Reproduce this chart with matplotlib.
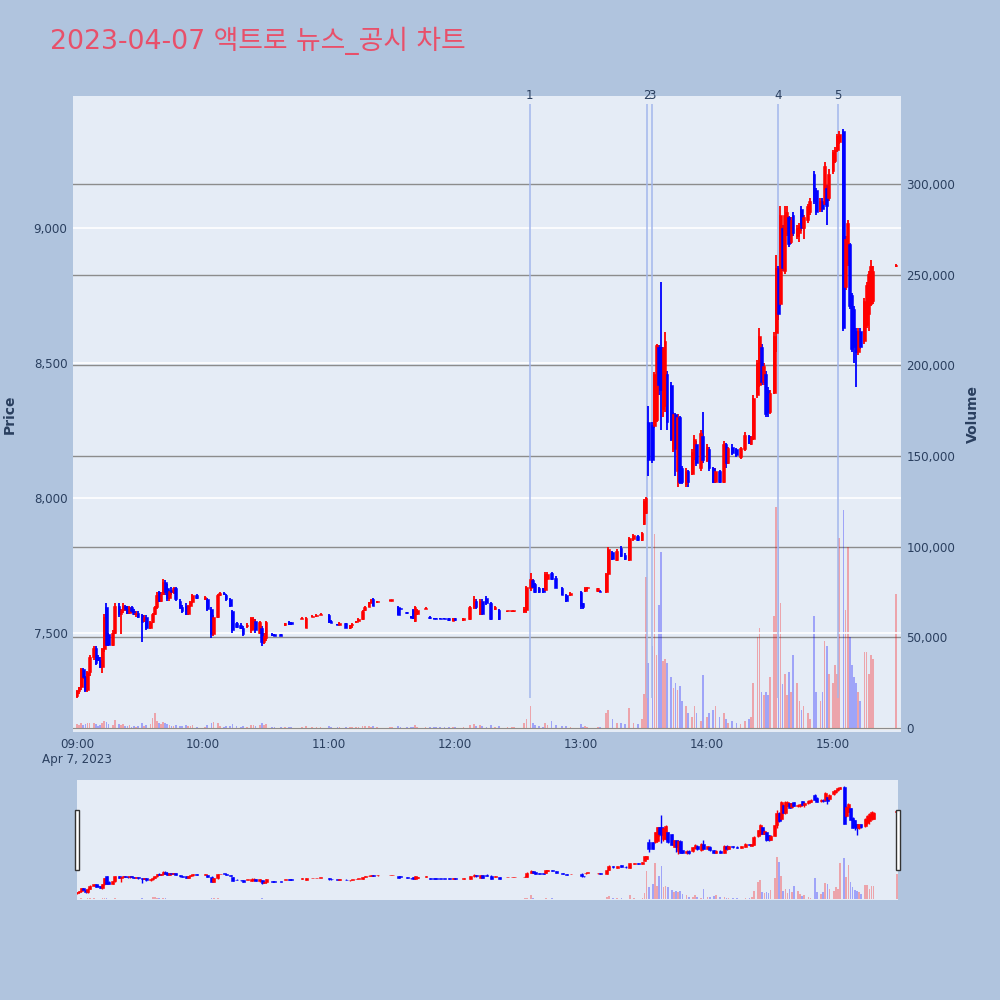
"""
2023-04-07 액트로 뉴스_공시 차트 (1분봉 + 거래량 + 레인지 슬라이더)
"""
import matplotlib.pyplot as plt
import numpy as np
from matplotlib.ticker import FuncFormatter
from matplotlib.patches import Rectangle

plt.rcParams['font.family'] = ['DejaVu Sans', 'Noto Sans CJK KR']

# ---- 데이터 ----
times = [
    "09:00", "09:01", "09:02", "09:03", "09:04", "09:05", "09:06", "09:08", "09:09", "09:10",
    "09:11", "09:12", "09:13", "09:14", "09:15", "09:17", "09:18", "09:20", "09:21", "09:22",
    "09:23", "09:24", "09:25", "09:26", "09:27", "09:28", "09:29", "09:31", "09:32", "09:33",
    "09:35", "09:36", "09:37", "09:38", "09:39", "09:40", "09:41", "09:42", "09:43", "09:44",
    "09:45", "09:46", "09:47", "09:49", "09:50", "09:52", "09:53", "09:54", "09:55", "09:57",
    "10:01", "10:02", "10:04", "10:05", "10:07", "10:08", "10:10", "10:11", "10:13", "10:14",
    "10:16", "10:18", "10:19", "10:21", "10:23", "10:24", "10:25", "10:27", "10:28", "10:29",
    "10:30", "10:33", "10:34", "10:37", "10:39", "10:41", "10:42", "10:47", "10:49", "10:52",
    "10:54", "10:56", "11:00", "11:01", "11:04", "11:05", "11:08", "11:10", "11:11", "11:13",
    "11:14", "11:16", "11:17", "11:19", "11:20", "11:21", "11:23", "11:29", "11:30", "11:33",
    "11:34", "11:37", "11:39", "11:40", "11:41", "11:42", "11:46", "11:48", "11:50", "11:51",
    "11:53", "11:55", "11:57", "11:59", "12:00", "12:04", "12:07", "12:09", "12:10", "12:12",
    "12:13", "12:15", "12:17", "12:19", "12:21", "12:25", "12:27", "12:28", "12:33", "12:34",
    "12:36", "12:37", "12:38", "12:40", "12:42", "12:43", "12:44", "12:46", "12:48", "12:51",
    "12:53", "12:55", "13:00", "13:01", "13:02", "13:03", "13:08", "13:09", "13:12", "13:13",
    "13:15", "13:17", "13:19", "13:21", "13:23", "13:25", "13:27", "13:29", "13:30", "13:31",
    "13:32", "13:34", "13:35", "13:36", "13:37", "13:38", "13:39", "13:40", "13:41", "13:43",
    "13:44", "13:45", "13:46", "13:47", "13:48", "13:50", "13:51", "13:53", "13:54", "13:55",
    "13:57", "13:58", "14:00", "14:01", "14:03", "14:04", "14:06", "14:08", "14:09", "14:10",
    "14:12", "14:14", "14:16", "14:18", "14:20", "14:21", "14:22", "14:24", "14:25", "14:26",
    "14:27", "14:28", "14:29", "14:30", "14:32", "14:33", "14:34", "14:35", "14:36", "14:37",
    "14:38", "14:39", "14:40", "14:41", "14:43", "14:44", "14:45", "14:46", "14:48", "14:49",
    "14:51", "14:52", "14:54", "14:55", "14:56", "14:57", "14:58", "15:00", "15:01", "15:02",
    "15:03", "15:05", "15:06", "15:07", "15:08", "15:09", "15:10", "15:11", "15:12", "15:13",
    "15:15", "15:16", "15:17", "15:18", "15:19", "15:30",
]
opens = [
    7265, 7285, 7300, 7365, 7335, 7290, 7355, 7410, 7445, 7410,
    7400, 7375, 7440, 7595, 7495, 7455, 7500, 7600, 7570, 7585,
    7600, 7590, 7575, 7595, 7580, 7570, 7575, 7565, 7545, 7560,
    7520, 7540, 7570, 7595, 7650, 7620, 7645, 7690, 7665, 7630,
    7660, 7650, 7665, 7620, 7595, 7600, 7570, 7600, 7615, 7640,
    7625, 7625, 7590, 7495, 7560, 7640, 7648, 7640, 7625, 7580,
    7535, 7530, 7520, 7525, 7510, 7520, 7545, 7500, 7520, 7465,
    7480, 7495, 7495, 7495, 7530, 7540, 7540, 7552, 7520, 7560,
    7562, 7566, 7568, 7545, 7532, 7530, 7535, 7520, 7528, 7540,
    7545, 7550, 7585, 7597, 7612, 7625, 7615, 7620, 7620, 7595,
    7590, 7575, 7560, 7585, 7545, 7570, 7590, 7560, 7555, 7553,
    7553, 7553, 7555, 7546, 7555, 7548, 7550, 7595, 7620, 7570,
    7620, 7630, 7612, 7590, 7585, 7580, 7580, 7580, 7580, 7585,
    7665, 7695, 7680, 7665, 7665, 7660, 7700, 7722, 7705, 7665,
    7640, 7640, 7650, 7610, 7655, 7665, 7655, 7655, 7650, 7720,
    7800, 7770, 7815, 7790, 7770, 7848, 7860, 7845, 7905, 7945,
    8280, 8270, 8265, 8290, 8560, 8560, 8330, 8340, 8460, 8420,
    8180, 8310, 8100, 8300, 8110, 8050, 8100, 8090, 8150, 8200,
    8110, 8230, 8140, 8180, 8110, 8060, 8100, 8060, 8200, 8130,
    8190, 8180, 8150, 8180, 8230, 8200, 8220, 8380, 8420, 8560,
    8430, 8460, 8400, 8320, 8390, 8610, 8850, 8720, 9000, 8840,
    8980, 9040, 8950, 9050, 8970, 8980, 9070, 9000, 9030, 9060,
    9200, 9140, 9070, 9100, 9090, 9150, 9110, 9210, 9250, 9290,
    9320, 9360, 8780, 8870, 8940, 8750, 8700, 8620, 8540, 8620,
    8580, 8640, 8680, 8720, 8730, 8860,
]
highs = [
    7290, 7300, 7370, 7370, 7340, 7360, 7420, 7450, 7450, 7420,
    7410, 7445, 7570, 7610, 7500, 7510, 7610, 7610, 7590, 7610,
    7605, 7600, 7600, 7600, 7590, 7580, 7580, 7570, 7565, 7565,
    7545, 7575, 7600, 7650, 7655, 7650, 7700, 7695, 7680, 7660,
    7670, 7670, 7670, 7625, 7605, 7610, 7605, 7620, 7645, 7645,
    7635, 7630, 7595, 7565, 7645, 7650, 7650, 7645, 7630, 7585,
    7540, 7535, 7525, 7535, 7560, 7560, 7550, 7545, 7525, 7500,
    7545, 7498, 7496, 7496, 7535, 7545, 7542, 7558, 7560, 7565,
    7570, 7572, 7570, 7548, 7534, 7540, 7538, 7530, 7535, 7545,
    7555, 7585, 7600, 7615, 7625, 7628, 7620, 7622, 7622, 7598,
    7592, 7576, 7562, 7590, 7600, 7590, 7595, 7562, 7556, 7554,
    7554, 7554, 7556, 7556, 7556, 7556, 7600, 7635, 7625, 7625,
    7625, 7635, 7615, 7598, 7590, 7583, 7583, 7583, 7595, 7675,
    7722, 7700, 7685, 7670, 7668, 7725, 7725, 7725, 7710, 7670,
    7645, 7650, 7655, 7612, 7670, 7670, 7668, 7658, 7722, 7818,
    7805, 7810, 7822, 7795, 7855, 7865, 7862, 7875, 7995, 8005,
    8340, 8280, 8465, 8570, 8565, 8800, 8560, 8615, 8470, 8430,
    8320, 8315, 8310, 8305, 8120, 8110, 8105, 8180, 8235, 8210,
    8250, 8320, 8200, 8190, 8115, 8110, 8105, 8210, 8205, 8190,
    8200, 8185, 8190, 8245, 8235, 8230, 8380, 8510, 8630, 8570,
    8500, 8470, 8410, 8400, 8615, 8900, 8860, 9080, 9010, 9080,
    9080, 9045, 9040, 9060, 9010, 9020, 9080, 9050, 9090, 9110,
    9210, 9150, 9110, 9110, 9245, 9160, 9220, 9290, 9300, 9350,
    9360, 9365, 8970, 9030, 8945, 8760, 8710, 8630, 8630, 8630,
    8740, 8800, 8840, 8880, 8860, 8865,
]
lows = [
    7260, 7275, 7290, 7330, 7280, 7280, 7340, 7400, 7380, 7395,
    7370, 7350, 7430, 7450, 7450, 7450, 7495, 7560, 7495, 7575,
    7580, 7570, 7570, 7575, 7565, 7560, 7555, 7465, 7540, 7510,
    7515, 7535, 7565, 7590, 7615, 7615, 7640, 7640, 7620, 7620,
    7640, 7645, 7620, 7590, 7575, 7565, 7565, 7595, 7610, 7625,
    7622, 7580, 7480, 7490, 7555, 7635, 7640, 7620, 7595, 7500,
    7520, 7515, 7490, 7520, 7500, 7510, 7500, 7495, 7450, 7460,
    7470, 7490, 7489, 7488, 7525, 7530, 7530, 7550, 7518, 7558,
    7560, 7565, 7535, 7535, 7528, 7528, 7518, 7515, 7520, 7538,
    7543, 7548, 7582, 7595, 7610, 7598, 7612, 7618, 7618, 7565,
    7588, 7570, 7555, 7550, 7540, 7565, 7588, 7552, 7551, 7550,
    7550, 7550, 7545, 7545, 7546, 7546, 7548, 7590, 7590, 7565,
    7565, 7605, 7548, 7585, 7548, 7578, 7578, 7578, 7575, 7575,
    7655, 7665, 7648, 7648, 7648, 7655, 7695, 7695, 7665, 7640,
    7615, 7638, 7590, 7590, 7650, 7660, 7652, 7650, 7648, 7715,
    7770, 7765, 7780, 7770, 7765, 7840, 7840, 7840, 7900, 7940,
    8080, 8130, 8260, 8280, 8380, 8250, 8300, 8320, 8250, 8210,
    8170, 8080, 8040, 8050, 8050, 8040, 8040, 8085, 8140, 8120,
    8100, 8130, 8135, 8100, 8055, 8055, 8055, 8055, 8110, 8125,
    8160, 8150, 8145, 8175, 8200, 8195, 8215, 8370, 8410, 8420,
    8420, 8300, 8300, 8310, 8385, 8540, 8660, 8710, 8840, 8830,
    8970, 8930, 8940, 8970, 8960, 8950, 8990, 8960, 9020, 9050,
    9090, 9050, 9060, 9060, 9085, 9010, 9100, 9200, 9240, 9280,
    9310, 8620, 8770, 8860, 8700, 8540, 8500, 8410, 8530, 8550,
    8570, 8630, 8620, 8710, 8720, 8855,
]
closes = [
    7285, 7300, 7365, 7335, 7290, 7355, 7410, 7445, 7390, 7400,
    7375, 7440, 7560, 7455, 7455, 7500, 7600, 7570, 7585, 7600,
    7590, 7575, 7595, 7580, 7570, 7575, 7560, 7540, 7560, 7520,
    7540, 7570, 7595, 7640, 7620, 7645, 7690, 7650, 7630, 7655,
    7650, 7665, 7625, 7595, 7580, 7570, 7600, 7615, 7640, 7630,
    7632, 7590, 7495, 7560, 7640, 7648, 7645, 7625, 7600, 7510,
    7522, 7520, 7495, 7530, 7555, 7550, 7510, 7540, 7465, 7490,
    7540, 7492, 7490, 7490, 7535, 7532, 7533, 7557, 7557, 7563,
    7568, 7570, 7540, 7537, 7530, 7536, 7520, 7528, 7532, 7543,
    7553, 7583, 7597, 7613, 7622, 7600, 7618, 7622, 7621, 7568,
    7589, 7572, 7557, 7555, 7595, 7585, 7593, 7554, 7552, 7551,
    7551, 7551, 7548, 7554, 7548, 7554, 7595, 7625, 7595, 7620,
    7570, 7610, 7552, 7595, 7552, 7582, 7582, 7582, 7590, 7670,
    7700, 7670, 7650, 7650, 7650, 7720, 7720, 7700, 7668, 7642,
    7620, 7648, 7598, 7595, 7668, 7668, 7665, 7652, 7720, 7810,
    7775, 7805, 7785, 7775, 7850, 7862, 7845, 7870, 7990, 8000,
    8140, 8140, 8460, 8565, 8420, 8400, 8555, 8580, 8280, 8220,
    8310, 8180, 8300, 8060, 8060, 8100, 8060, 8170, 8220, 8130,
    8240, 8140, 8190, 8110, 8060, 8100, 8060, 8200, 8130, 8185,
    8165, 8160, 8185, 8235, 8205, 8225, 8370, 8500, 8600, 8430,
    8490, 8310, 8320, 8390, 8600, 8850, 8680, 9050, 8850, 9050,
    9060, 8940, 9030, 8980, 9000, 9010, 9000, 9040, 9080, 9100,
    9100, 9060, 9100, 9070, 9230, 9080, 9200, 9280, 9290, 9340,
    9350, 8630, 8960, 9020, 8710, 8550, 8560, 8540, 8620, 8560,
    8730, 8790, 8830, 8860, 8840, 8862,
]
volumes = [
    2000, 1500, 2500, 1500, 2000, 3000, 2500, 3000, 2000, 1200,
    1500, 2500, 4000, 3500, 2000, 1500, 4500, 2000, 1500, 2000,
    1000, 1000, 1500, 800, 1000, 800, 1000, 2500, 1200, 1500,
    2000, 5500, 8000, 4000, 2500, 2000, 3500, 2500, 2000, 1500,
    1200, 1000, 1500, 1200, 1000, 1500, 1200, 1000, 1500, 800,
    600, 1500, 3000, 3500, 2500, 1200, 800, 1000, 1200, 2000,
    1000, 800, 1200, 800, 1500, 1500, 1200, 1500, 2500, 1500,
    2000, 500, 400, 500, 800, 800, 600, 500, 1200, 500,
    600, 500, 1200, 800, 400, 500, 800, 600, 500, 400,
    600, 1200, 1000, 1200, 800, 1000, 400, 300, 300, 1000,
    300, 400, 400, 800, 1500, 800, 300, 500, 400, 300,
    300, 300, 500, 600, 500, 500, 1500, 2000, 1200, 1500,
    1200, 800, 1500, 500, 1000, 300, 300, 300, 3000, 5000,
    12000, 2500, 1500, 1000, 800, 2500, 1500, 4000, 1500, 1000,
    1200, 600, 2000, 800, 1000, 500, 800, 600, 8000, 10000,
    5000, 3000, 2500, 2000, 11000, 3000, 2000, 5000, 19000, 83000,
    36000, 45000, 107000, 40000, 68000, 97000, 37000, 38000, 36000, 28000,
    22000, 25000, 21000, 23000, 15000, 12000, 8000, 6000, 12000, 8000,
    4000, 29000, 6000, 8000, 10000, 12000, 6000, 8000, 5000, 3000,
    4000, 3000, 2000, 4000, 5000, 6000, 25000, 50000, 55000, 20000,
    18000, 20000, 18000, 28000, 62000, 122000, 109000, 69000, 24000, 30000,
    18000, 31000, 20000, 40000, 25000, 15000, 10000, 12000, 8000, 5000,
    62000, 20000, 15000, 20000, 48000, 45000, 30000, 25000, 35000, 30000,
    105000, 120000, 65000, 100000, 50000, 35000, 28000, 25000, 20000, 15000,
    42000, 42000, 30000, 40000, 38000, 74000,
]

# 뉴스/공시 시점
event_times = ["12:35:40", "13:31:25", "13:33:50", "14:33:50", "15:02:20"]
event_labels = ["1", "2", "3", "4", "5"]

title = "2023-04-07 액트로 뉴스_공시 차트"

UP_COLOR = '#ff0000'
DOWN_COLOR = '#0000ff'
PAPER = '#b0c4de'
PLOT_BG = '#e5ecf6'
TEXT = '#2a3f5f'


def to_minutes(stamps):
    """'HH:MM' 또는 'HH:MM:SS' -> 09:00 기준 분"""
    out = []
    for s in stamps:
        parts = [int(p) for p in s.split(':')]
        m = (parts[0] - 9) * 60 + parts[1]
        if len(parts) == 3:
            m += parts[2] / 60
        out.append(m)
    return np.array(out, dtype=float)


def draw_candles(ax, x, o, h, l, c, body_w, wick_lw, min_body):
    up = c >= o
    colors = np.where(up, UP_COLOR, DOWN_COLOR)
    ax.vlines(x, l, h, colors=colors, linewidth=wick_lw, zorder=3)
    bottom = np.minimum(o, c)
    height = np.maximum(np.abs(c - o), min_body)
    ax.bar(x, height, width=body_w, bottom=bottom, color=colors,
           edgecolor=colors, linewidth=0.4, zorder=4)


def draw_volume(ax, x, o, c, v, width):
    colors = np.where(c >= o, UP_COLOR, DOWN_COLOR)
    ax.bar(x, v, width=width, color=colors, alpha=0.3, linewidth=0, zorder=2)


x = to_minutes(times)
o = np.array(opens, dtype=float)
h = np.array(highs, dtype=float)
l = np.array(lows, dtype=float)
c = np.array(closes, dtype=float)
v = np.array(volumes, dtype=float)
ev_x = to_minutes(event_times)

price_lim = (7133, 9489)
vol_lim = (-2200, 348400)
x_lim = (-1.9, 392.4)

fig = plt.figure(figsize=(10, 10), dpi=100, facecolor=PAPER)

# ---- 메인 차트 ----
ax_v = fig.add_axes([0.073, 0.268, 0.828, 0.636])
ax_p = ax_v.twinx()
ax_v.set_facecolor(PLOT_BG)
ax_p.set_zorder(ax_v.get_zorder() + 1)
ax_p.patch.set_visible(False)

# 거래량 (오른쪽 축)
draw_volume(ax_v, x, o, c, v, 0.8)
ax_v.set_ylim(*vol_lim)
ax_v.set_yticks(np.arange(0, 300001, 50000))
ax_v.yaxis.set_major_formatter(FuncFormatter(lambda val, pos: f'{val:,.0f}'))
ax_v.yaxis.tick_right()
ax_v.yaxis.set_label_position('right')
ax_v.grid(True, axis='y', color='#8c8c8c', linewidth=1)
ax_v.axhline(0, color='white', linewidth=2, zorder=1)

# 가격 (왼쪽 축)
for t in [7500, 8000, 8500, 9000]:
    ax_p.axhline(t, color='white', linewidth=1.2, zorder=1)
ev_top = h.max() * 1.01
ax_p.vlines(ev_x, l.min(), ev_top, color='#a3b7ec', linewidth=1.1, zorder=2)
for ex, lab in zip(ev_x, event_labels):
    ax_p.text(ex, ev_top + 8, lab, ha='center', va='bottom', fontsize=8.5, color=TEXT)
draw_candles(ax_p, x, o, h, l, c, 1.3, 1.3, 4)
ax_p.set_ylim(*price_lim)
ax_p.set_yticks([7500, 8000, 8500, 9000])
ax_p.yaxis.set_major_formatter(FuncFormatter(lambda val, pos: f'{val:,.0f}'))
ax_p.yaxis.tick_left()

ax_v.set_xlim(*x_lim)
xt = np.arange(0, 361, 60)
ax_v.set_xticks(xt)
ax_v.set_xticklabels(['09:00\nApr 7, 2023', '10:00', '11:00', '12:00', '13:00', '14:00', '15:00'])

for a in (ax_v, ax_p):
    for s in a.spines.values():
        s.set_visible(False)
    a.tick_params(length=0, labelsize=8.6, labelcolor=TEXT, pad=4)

fig.text(0.010, 0.586, 'Price', rotation=90, ha='center', va='center',
         fontsize=10, fontweight='bold', color=TEXT)
fig.text(0.973, 0.586, 'Volume', rotation=90, ha='center', va='center',
         fontsize=10, fontweight='bold', color=TEXT)
fig.text(0.05, 0.959, title, ha='left', va='center', fontsize=19.3, color='#e8506a')

# ---- 레인지 슬라이더 ----
sv = fig.add_axes([0.0765, 0.100, 0.8215, 0.120])
sp = sv.twinx()
sv.set_facecolor(PLOT_BG)
sp.set_zorder(sv.get_zorder() + 1)
sp.patch.set_visible(False)
draw_volume(sv, x, o, c, v, 0.8)
draw_candles(sp, x, o, h, l, c, 1.4, 1.0, 12)
sv.set_ylim(*vol_lim)
sp.set_ylim(*price_lim)
sv.set_xlim(-0.3, 390.6)
for a in (sv, sp):
    a.set_xticks([])
    a.set_yticks([])
    for s in a.spines.values():
        s.set_visible(False)

# 슬라이더 손잡이
for hx in (0.0745, 0.8955):
    fig.patches.append(Rectangle((hx, 0.130), 0.0045, 0.060, transform=fig.transFigure,
                                 facecolor='white', edgecolor='#333333', linewidth=1))

fig.savefig('out.png', dpi=100, facecolor=PAPER)
